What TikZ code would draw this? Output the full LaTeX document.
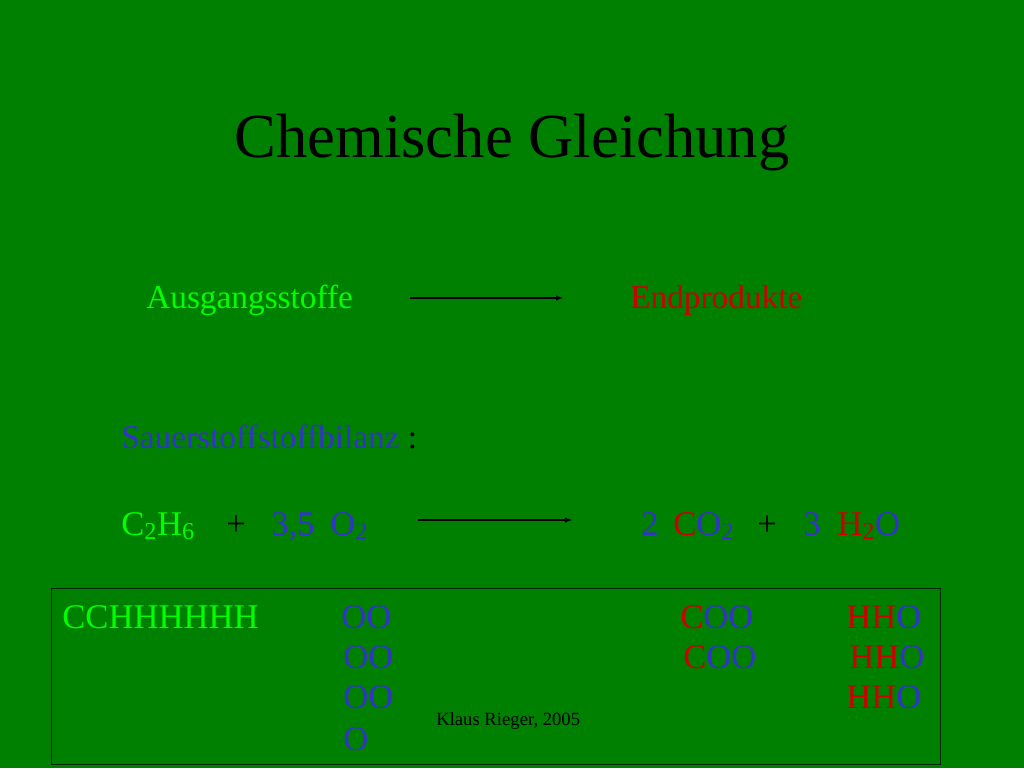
\documentclass[tikz,border=0pt]{standalone}
\usepackage{fontspec}
\setmainfont{Liberation Serif}
\begin{document}
\begin{tikzpicture}[x=0.75pt,y=-0.75pt]
\definecolor{bg}{RGB}{0,128,0}
\definecolor{lg}{RGB}{0,255,0}
\definecolor{bl}{RGB}{51,51,204}
\definecolor{rd}{RGB}{204,0,0}
\tikzset{t/.style={anchor=base west,inner sep=0pt,font=\fontsize{26}{30}\selectfont},
  arr/.style={-latex,thick}}
\fill[bg] (0,0) rectangle (1024,768);
\useasboundingbox (0,0) rectangle (1024,768);
\node[anchor=base,inner sep=0pt,font=\fontsize{47}{52}\selectfont] (title) at (512,157) {Chemische Gleichung};
\node[t,text=lg,font=\fontsize{25}{28}\selectfont] (a) at (146,308) {Ausgangsstoffe};
\node[t,text=rd,font=\fontsize{25}{28}\selectfont] (e) at (630,308) {Endprodukte};
\coordinate (a1) at (410,298); \coordinate (a2) at (563,298);
\draw[arr] (a1) -- (a2);
\node[t,font=\fontsize{25}{28}\selectfont] (s) at (121,448) {\textcolor{bl}{Sauerstoffstoffbilanz} :};
\node[t,text=lg] (c) at (121,535) {C\textsubscript{2}H\textsubscript{6}};
\node[t] (p1) at (226,535) {+};
\node[t,text=bl] (n1) at (271,535) {3,5};
\node[t,text=bl] (o2) at (330,535) {O\textsubscript{2}};
\coordinate (b1) at (418,520); \coordinate (b2) at (572,520);
\draw[arr] (b1) -- (b2);
\node[t,text=bl] (n2) at (641,535) {2};
\node[t,text=rd] (co) at (673,535) {C\textcolor{bl}{O\textsubscript{2}}};
\node[t] (p2) at (757,535) {+};
\node[t,text=bl] (n3) at (803,535) {3};
\node[t,text=rd] (ho) at (837,535) {H\textsubscript{2}\textcolor{bl}{O}};
\node[draw=black!70!bg,thick,minimum width=889*0.75pt,minimum height=176*0.75pt,anchor=north west,inner sep=0pt] (box) at (51,588) {};
\node[t,text=lg] (r1) at (62,628) {CCHHHHHH};
\node[t,text=bl] (o1) at (341,628) {OO};
\node[t,text=bl] (o3) at (343,668) {OO};
\node[t,text=bl] (o4) at (343,708) {OO};
\node[t,text=bl] (o5) at (343,750) {O};
\node[t,text=rd] (c1) at (680,628) {C\textcolor{bl}{OO}};
\node[t,text=rd] (c2) at (683,668) {C\textcolor{bl}{OO}};
\node[t,text=rd] (h1) at (846,628) {HH\textcolor{bl}{O}};
\node[t,text=rd] (h2) at (849,668) {HH\textcolor{bl}{O}};
\node[t,text=rd] (h3) at (846,708) {HH\textcolor{bl}{O}};
\node[t,font=\fontsize{14}{16}\selectfont] (k) at (436,725) {Klaus Rieger, 2005};
\end{tikzpicture}
\end{document}
